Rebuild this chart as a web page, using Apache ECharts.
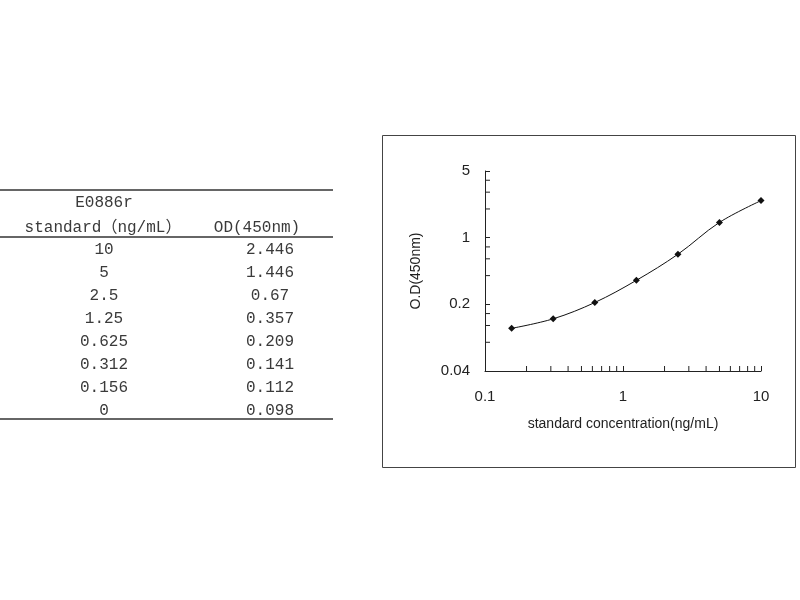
<!DOCTYPE html>
<html>
<head>
<meta charset="utf-8">
<script src="https://cdn.jsdelivr.net/npm/echarts@6/dist/echarts.min.js"></script>
<style>html,body{margin:0;padding:0;background:#fff;}#main{width:800px;height:600px;}</style>
</head>
<body>
<div id="main"></div>
<script>
// ---- data ----
var tableTitle1 = 'E0886r';
var tableTitle2 = 'standard（ng/mL）';
var tableTitle3 = 'OD(450nm)';
var concLabels = ['10', '5', '2.5', '1.25', '0.625', '0.312', '0.156', '0'];
var concValues = [10, 5, 2.5, 1.25, 0.625, 0.312, 0.156, 0];
var odValues = [2.446, 1.446, 0.67, 0.357, 0.209, 0.141, 0.112, 0.098];
var xTickLabels = ['0.1', '1', '10'];
var yTickLabels = ['0.04', '0.2', '1', '5'];
var xMinorTicks = [0.2, 0.3, 0.4, 0.5, 0.6, 0.7, 0.8, 0.9, 2, 3, 4, 5, 6, 7, 8, 9];
var yMinorTicks = [0.08, 0.12, 0.16, 0.4, 0.6, 0.8, 2, 3, 4];
var xName = 'standard concentration(ng/mL)';
var yName = 'O.D(450nm)';

// ---- build ----
var points = [];
for (var i = concValues.length - 1; i >= 0; i--) {
  if (concValues[i] > 0) points.push([concValues[i], odValues[i]]);
}
var X_MIN = 0.1, X_MAX = 10, Y_MIN = 0.04, Y_MAX = 5;

function fmt(v) { return String(+(+v).toPrecision(6)); }

var tableFont = '"Liberation Mono", "Noto Sans CJK SC", monospace';
var tColor = '#3a3a3a';
var graphics = [];
function addText(txt, x, y) {
  graphics.push({ type: 'text', x: x, y: y, style: { text: txt, fill: tColor, font: '16px ' + tableFont, textAlign: 'center', textVerticalAlign: 'middle' } });
}
function addLine(y) {
  graphics.push({ type: 'line', shape: { x1: 0, y1: y, x2: 333, y2: y }, style: { stroke: '#666', lineWidth: 2 } });
}
addLine(190); addLine(237); addLine(419);
addText(tableTitle1, 104, 203);
addText(tableTitle2, 103, 228);
addText(tableTitle3, 257, 228);
for (var r = 0; r < concLabels.length; r++) {
  addText(concLabels[r], 104, 250 + r * 23);
  addText(String(odValues[r].toFixed(3)).replace(/0+$/, '').replace(/\.$/, ''), 270, 250 + r * 23);
}
graphics.push({ type: 'rect', shape: { x: 382.5, y: 135.5, width: 413, height: 332 }, style: { fill: 'none', stroke: '#444', lineWidth: 1 } });

var chart = echarts.init(document.getElementById('main'), null, { renderer: 'canvas' });
var axisFont = '"Liberation Sans", Arial, sans-serif';
chart.setOption({
  animation: false,
  backgroundColor: '#fff',
  grid: { left: 485, right: 39, top: 171, bottom: 229, containLabel: false },
  xAxis: {
    type: 'log', logBase: 10, min: X_MIN, max: X_MAX,
    axisLine: { lineStyle: { color: '#222', width: 1 } },
    axisTick: { inside: true, length: 5, lineStyle: { color: '#222' } },
    splitLine: { show: false },
    axisLabel: { color: '#222', fontSize: 15, fontFamily: axisFont, margin: 18,
      formatter: function (v) { var s = fmt(v); return xTickLabels.indexOf(s) >= 0 ? s : ''; } },
    name: xName, nameLocation: 'middle', nameGap: 46,
    nameTextStyle: { color: '#222', fontSize: 14, fontFamily: axisFont }
  },
  yAxis: {
    type: 'log', logBase: 5, min: Y_MIN, max: Y_MAX,
    axisLine: { lineStyle: { color: '#222', width: 1 } },
    axisTick: { inside: true, length: 5, lineStyle: { color: '#222' } },
    splitLine: { show: false },
    axisLabel: { color: '#222', fontSize: 15, fontFamily: axisFont, margin: 15,
      formatter: function (v) { var s = fmt(v); return yTickLabels.indexOf(s) >= 0 ? s : ''; } },
    name: yName, nameLocation: 'middle', nameGap: 62, nameRotate: 90,
    nameTextStyle: { color: '#222', fontSize: 14, fontFamily: axisFont }
  },
  graphic: graphics,
  series: [
    {
      type: 'line', data: points, smooth: 0.35,
      symbol: 'diamond', symbolSize: 7,
      lineStyle: { color: '#111', width: 1 },
      itemStyle: { color: '#111' }
    },
    {
      type: 'custom', silent: true, clip: false,
      data: xMinorTicks.map(function (v) { return [v, Y_MIN]; }),
      renderItem: function (params, api) {
        var p = api.coord([api.value(0), api.value(1)]);
        return { type: 'line', shape: { x1: p[0], y1: p[1], x2: p[0], y2: p[1] - 5 }, style: { stroke: '#222', lineWidth: 1 } };
      }
    },
    {
      type: 'custom', silent: true, clip: false,
      data: yMinorTicks.map(function (v) { return [X_MIN, v]; }),
      renderItem: function (params, api) {
        var p = api.coord([api.value(0), api.value(1)]);
        return { type: 'line', shape: { x1: p[0], y1: p[1], x2: p[0] + 5, y2: p[1] }, style: { stroke: '#222', lineWidth: 1 } };
      }
    }
  ]
});
</script>
</body>
</html>
